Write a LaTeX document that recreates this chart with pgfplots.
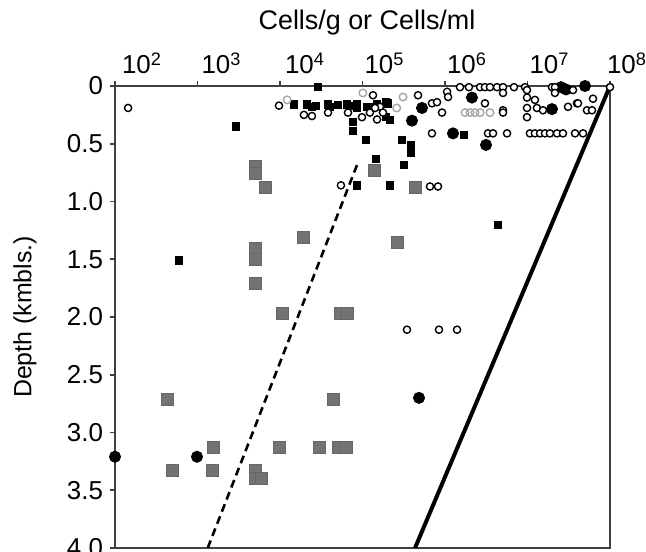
\documentclass[border=0pt]{standalone}
\usepackage{pgfplots}
\pgfplotsset{compat=1.18}
\usepackage{fontspec}
\setmainfont{Liberation Sans}
\begin{document}
\begin{tikzpicture}
\begin{axis}[
  scale only axis, width=247.5bp, height=231bp,
  xmode=log, xmin=1e2, xmax=1e8, ymin=0, ymax=4, y dir=reverse,
  axis line style={black!75, line width=1pt},
  xtick={1e2,1e3,1e4,1e5,1e6,1e7,1e8},
  xticklabels={\kern10bp 10\textsuperscript{2},\kern7bp 10\textsuperscript{3},\kern8bp 10\textsuperscript{4},\kern5bp 10\textsuperscript{5},\kern5bp 10\textsuperscript{6},\kern5bp 10\textsuperscript{7},10\textsuperscript{8}},
  xminorticks=false,
  xtick pos=right, xticklabel pos=right,
  ytick pos=left,
  ytick={0,0.5,1,1.5,2,2.5,3,3.5,4},
  yticklabels={0,0.5,1.0,1.5,2.0,2.5,3.0,3.5,4.0},
  tick align=outside, major tick length=2.5bp,
  tick style={black!75, line width=0.8pt},
  tick label style={font=\fontsize{13}{15}\selectfont},
  xticklabel style={xshift=8.5bp},
  clip=false,
]
% regression lines
\addplot[black, line width=1.3bp, dash pattern=on 4bp off 2.5bp] coordinates {(1.33e3,4.0) (8.57e4,0.685)};
\addplot[black, line width=2bp] coordinates {(4.33e5,4.0) (1e8,0.0)};
% gray squares
\addplot[only marks, mark=square*, mark size=3bp, mark options={fill=black!55, draw=black!60}] coordinates {
(5.0e3,0.70) (5.0e3,0.76) (6.6e3,0.875) (1.38e5,0.73) (4.33e5,0.875) (1.90e4,1.31) (2.62e5,1.35)
(5.0e3,1.41) (5.0e3,1.50) (5.0e3,1.71) (1.06e4,1.97) (5.33e4,1.97) (6.49e4,1.97)
(427,2.71) (4.39e4,2.71) (1.54e3,3.13) (9.7e3,3.13) (2.97e4,3.13) (5.05e4,3.13) (6.3e4,3.13)
(491,3.33) (1.50e3,3.33) (5.0e3,3.33) (5.0e3,3.40) (5.89e3,3.40)};
% black squares
\addplot[only marks, mark=square*, mark size=1.8bp, mark options={fill=black, draw=black}] coordinates {
(2.89e4,0.01) (2.93e3,0.35) (597,1.51) (4.38e6,1.20)
(1.48e4,0.16) (2.12e4,0.16) (2.73e4,0.17) (3.82e4,0.16) (5.05e4,0.165) (6.49e4,0.16) (8.57e4,0.16) (1.13e5,0.18) (1.50e5,0.16) (1.93e5,0.14)
(2.44e4,0.18) (4.04e4,0.18) (7.05e4,0.17) (8.57e4,0.19) (1.23e5,0.18)
(7.67e4,0.31) (7.67e4,0.39) (1.10e5,0.47) (1.46e5,0.63) (8.57e4,0.86) (2.15e5,0.86)
(1.93e5,0.27) (2.15e5,0.29) (2.04e5,0.15) (3.01e5,0.47) (3.87e5,0.51) (3.87e5,0.58) (3.18e5,0.68) (1.70e6,0.42)};
% black dots
\addplot[only marks, mark=*, mark size=2.8bp, mark options={fill=black, draw=black}] coordinates {
(2.55e7,0.01) (2.93e7,0.03) (4.98e7,0.0) (2.12e6,0.10) (5.26e5,0.19) (3.98e5,0.30) (1.25e6,0.41)
(3.14e6,0.51) (1.98e7,0.20) (100,3.21) (986,3.21) (4.84e5,2.70)};
% light gray open circles
\addplot[only marks, mark=o, mark size=1.9bp, mark options={draw=black!35, fill=white, line width=0.7pt}] coordinates {
(3.10e5,0.095) (1.75e6,0.23) (2.01e6,0.23) (2.31e6,0.23) (2.66e6,0.23) (3.51e6,0.23) (1.01e5,0.06) (1.22e4,0.12) (2.6e5,0.19)};
% black open circles
\addplot[only marks, mark=*, mark size=1.8bp, mark options={draw=black, fill=white, line width=0.7pt}] coordinates {
(144,0.19) (9.72e3,0.17) (1.95e4,0.25) (2.44e4,0.26) (3.82e4,0.23) (6.67e4,0.23) (9.86e4,0.27)
(1.23e5,0.23) (1.50e5,0.29) (1.34e5,0.08) (1.63e5,0.18) (1.77e5,0.23) (1.42e5,0.19)
(5.48e4,0.86) (6.58e5,0.87) (8.22e5,0.87) (3.46e5,2.11) (8.45e5,2.11) (1.40e6,2.11)
(6.95e5,0.41) (3.32e6,0.41) (3.82e6,0.41) (5.65e6,0.41) (1.07e7,0.41) (1.23e7,0.41) (1.42e7,0.41)
(1.63e7,0.41) (1.87e7,0.41) (2.28e7,0.41) (2.69e7,0.41) (3.77e7,0.41) (4.71e7,0.41)
(1.52e6,0.01) (1.95e6,0.01) (2.66e6,0.01) (3.05e6,0.01) (3.51e6,0.01) (4.27e6,0.01) (5.05e6,0.01)
(6.86e6,0.01) (9.33e6,0.01) (1.98e7,0.01) (2.15e7,0.01) (1e8,0.01)
(1.06e6,0.05) (1.09e6,0.095) (5.05e6,0.06) (9.86e6,0.035) (9.86e6,0.10) (1.23e7,0.12) (2.15e7,0.06)
(3.56e7,0.035) (6.22e7,0.11) (3.98e7,0.15)
(4.71e5,0.08) (6.95e5,0.15) (8.0e5,0.14) (9.2e5,0.23) (3.05e6,0.15) (5.05e6,0.21) (5.05e6,0.23)
(9.86e6,0.19) (9.86e6,0.27) (1.30e7,0.19) (1.54e7,0.21) (3.10e7,0.18) (4.09e7,0.15) (5.26e7,0.21) (6.05e7,0.21)};
\end{axis}
\node[anchor=base, font=\fontsize{13.5}{16}\selectfont] at (126bp,259bp) {Cells/g or Cells/ml};
\node[rotate=90, font=\fontsize{12.5}{15}\selectfont] at (-45bp,115.5bp) {Depth (kmbls.)};
\pgfresetboundingbox
\path (-57.5bp,-2bp) rectangle (265.5bp,274bp);
\end{tikzpicture}
\end{document}
